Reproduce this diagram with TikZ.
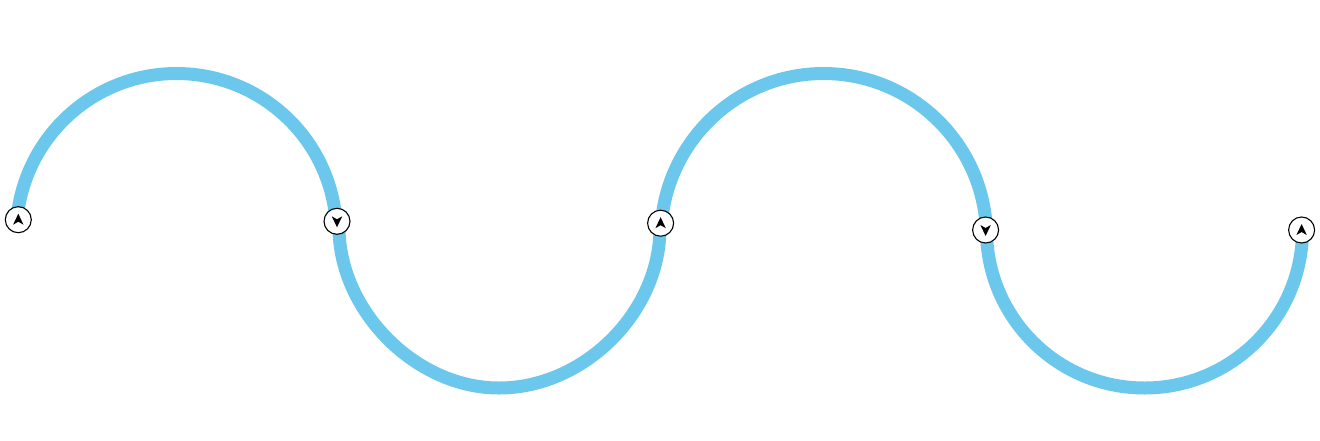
\documentclass[tikz,border=0pt]{standalone}
\usetikzlibrary{backgrounds}
\definecolor{wave}{HTML}{6BC8EC}

\begin{document}
\begin{tikzpicture}[
    x=1pt,
    y=-1pt,
    mark up/.style={
        path picture={\fill[black, shift={(path picture bounding box.center)}]
            (0,-6) -- (5.2,5) -- (0,2) -- (-5.2,5) -- cycle;}
    },
    mark down/.style={
        path picture={\fill[black, shift={(path picture bounding box.center)}]
            (0,6) -- (5.2,-5) -- (0,-2) -- (-5.2,-5) -- cycle;}
    },
    valve/.style={circle, draw=black, line width=1.1pt, fill=white, minimum size=26pt, inner sep=0pt},
    curve/.style={draw=wave, line width=13pt},
]

    \useasboundingbox (0,0) rectangle (1320,440);

    \node[valve, mark up]   (A) at (18.3,219.7)  {};
    \node[valve, mark down] (B) at (337,221.3)   {};
    \node[valve, mark up]   (C) at (660.6,223.2) {};
    \node[valve, mark down] (D) at (985.6,230)   {};
    \node[valve, mark up]   (E) at (1301.6,230)  {};

    \coordinate (crest1)  at (176.5,73.5);
    \coordinate (trough1) at (499,388);
    \coordinate (crest2)  at (823.5,73.5);
    \coordinate (trough2) at (1144.5,388);

    \begin{scope}[on background layer]
        \path[curve]
            ([xshift=-1.3pt]A.center) .. controls +(7.2,-82.7) and +(-83,0)     .. (crest1)
                                      .. controls +(83.6,0)    and +(-6.3,-83.4) .. ([xshift=-1pt]B.center)
            -- ([xshift=2.1pt]B.center) .. controls +(-3.7,85.5) and +(-85.6,0)  .. (trough1)
                                      .. controls +(86.4,0)    and +(3,86.4)    .. ([xshift=-0.7pt]C.center)
            -- ([xshift=0.8pt]C.center) .. controls +(7,-84.4)  and +(-84.7,0)  .. (crest2)
                                      .. controls +(87.4,0)    and +(-3.5,-87.3) .. ([xshift=0.8pt]D.center)
            -- ([xshift=0.9pt]D.center) .. controls +(0,87.3)   and +(-87.3,0)  .. (trough2)
                                      .. controls +(87.3,0)    and +(0,87.3)    .. ([xshift=0.9pt]E.center)
        ;
    \end{scope}
\end{tikzpicture}
\end{document}
